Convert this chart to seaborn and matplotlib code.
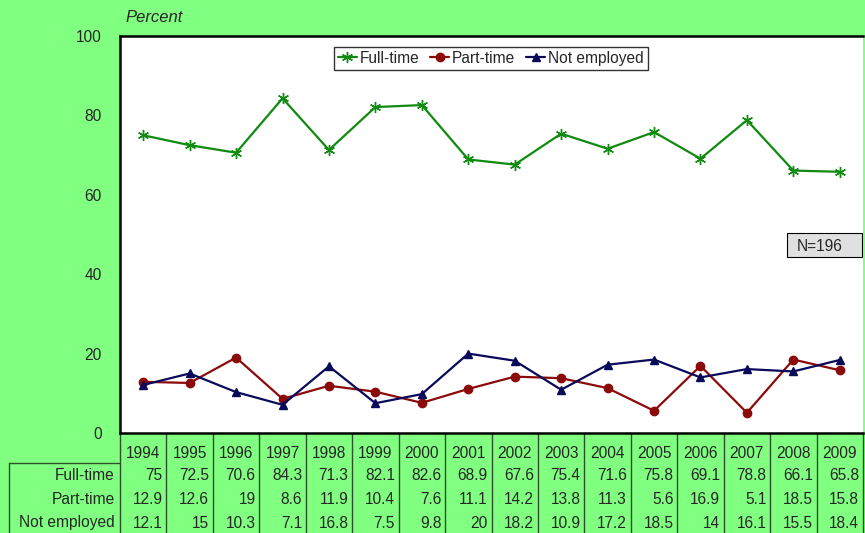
import numpy as np
import pandas as pd
import matplotlib
matplotlib.use("Agg")
import matplotlib.pyplot as plt
import matplotlib.transforms as mtransforms
from matplotlib.patches import Rectangle
import seaborn as sns

#%% Data
years = [1994, 1995, 1996, 1997, 1998, 1999, 2000, 2001, 2002, 2003, 2004, 2005, 2006, 2007, 2008, 2009]
full_time = [75, 72.5, 70.6, 84.3, 71.3, 82.1, 82.6, 68.9, 67.6, 75.4, 71.6, 75.8, 69.1, 78.8, 66.1, 65.8]
part_time = [12.9, 12.6, 19, 8.6, 11.9, 10.4, 7.6, 11.1, 14.2, 13.8, 11.3, 5.6, 16.9, 5.1, 18.5, 15.8]
not_employed = [12.1, 15, 10.3, 7.1, 16.8, 7.5, 9.8, 20, 18.2, 10.9, 17.2, 18.5, 14, 16.1, 15.5, 18.4]
series_names = ["Full-time", "Part-time", "Not employed"]
series_colors = ["#108a10", "#8b0a0a", "#0a0a5a"]
series_markers = [(6, 2, 0), "o", "^"]

df = pd.DataFrame({"year": years, "Full-time": full_time,
                   "Part-time": part_time, "Not employed": not_employed})

#%% Figure
sns.set_style("white")
plt.rcParams["font.family"] = ["Liberation Sans", "DejaVu Sans"]
fig = plt.figure(figsize=(8.65, 5.33), dpi=100, facecolor="#80FF80")
W, H = 865, 533
ax = fig.add_axes([120 / W, 1 - 433 / H, 743 / W, 397 / H])
ax.set_facecolor("white")
fs = 11.2

for name, col, mk in zip(series_names, series_colors, series_markers):
    sns.lineplot(data=df, x="year", y=name, ax=ax, color=col, marker=mk,
                 markersize=8 if mk == (6, 2, 0) else 6, markeredgecolor=col,
                 markeredgewidth=1.0, linewidth=1.6, label=name)

ax.set_xlim(years[0] - 0.5, years[-1] + 0.5)
ax.set_ylim(0, 100)
ax.set_yticks([0, 20, 40, 60, 80, 100])
ax.set_xticks([])
ax.set_xlabel("")
ax.set_ylabel("")
ax.tick_params(axis="y", length=0, pad=13, labelsize=fs)
for s in ["top", "left", "bottom"]:
    ax.spines[s].set_color("black")
    ax.spines[s].set_linewidth(1.8)
ax.spines["right"].set_visible(False)

fig.text(125 / W, 1 - 17 / H, "Percent", fontsize=12, style="italic", va="center")

leg = ax.legend(loc="upper center", bbox_to_anchor=(0.499, 0.992), ncol=3,
                fontsize=fs, frameon=True, fancybox=False, handlelength=1.2,
                handletextpad=0.2, columnspacing=0.7, borderpad=0.25)
leg.get_frame().set_edgecolor("black")
leg.get_frame().set_linewidth(1.0)

# N box
ax.add_patch(Rectangle((0.8977, 0.4433), 0.101, 0.0605, transform=ax.transAxes,
                       facecolor="#E0E0E0", edgecolor="black", linewidth=0.8, zorder=5))
ax.text(0.911, 0.4736, "N=196", transform=ax.transAxes, ha="left", va="center_baseline",
        fontsize=fs, zorder=6)

#%% Data table under the plot
tr = mtransforms.blended_transform_factory(ax.transData, fig.transFigure)
line_col = "#2f4f2f"
for i in range(len(years) + 1):
    x = years[0] - 0.5 + i
    ax.plot([x, x], [1 - 433 / H, 0], transform=tr, color=line_col, lw=1, clip_on=False)
ax.plot([9 / W, 9 / W], [1 - 463 / H, 0], transform=fig.transFigure, color=line_col, lw=1, clip_on=False)
ax.plot([9 / W, 120 / W], [1 - 463 / H, 1 - 463 / H], transform=fig.transFigure, color=line_col, lw=1, clip_on=False)

for yr in years:
    ax.text(yr, 1 - 454 / H, str(yr), transform=tr, ha="center", va="center", fontsize=fs)

row_y = [475, 499, 523]
for name, ry in zip(series_names, row_y):
    fig.text(115 / W, 1 - ry / H, name, ha="right", va="center", fontsize=fs)
    for yr, v in zip(years, df[name]):
        ax.text(yr + 0.42, 1 - ry / H, f"{v:g}", transform=tr, ha="right", va="center", fontsize=fs)

fig.savefig("out.png", dpi=100, facecolor=fig.get_facecolor())
